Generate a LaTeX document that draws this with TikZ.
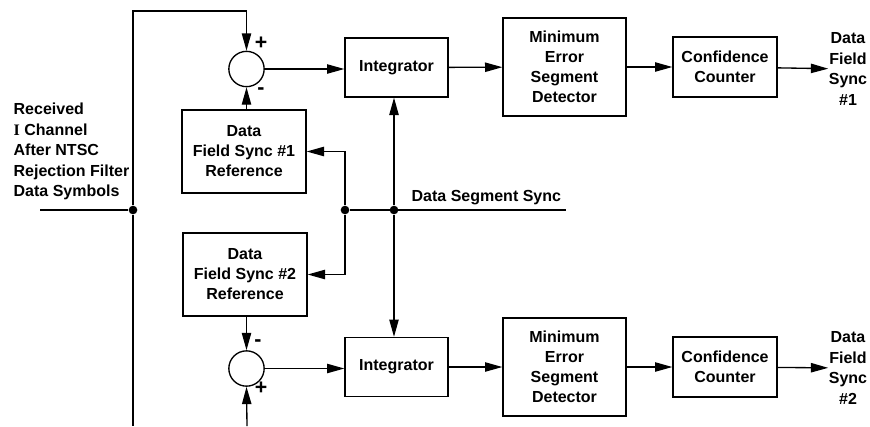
\documentclass[tikz,border=0pt]{standalone}
\usepackage{fontspec}
\setmainfont{Liberation Sans}
\newfontfamily\serifI{Liberation Serif}
\usepackage{tikz}
\usetikzlibrary{shapes,arrows.meta}
\tikzstyle{line} = [draw, -{Triangle[length=13pt,width=7pt]}]
\tikzstyle{wire} = [draw]
\tikzstyle{block} = [draw, align=center, inner sep=0pt, font=\bfseries\fontsize{12}{15}\selectfont]
\tikzstyle{summer} = [draw, circle, minimum size=26.5pt, inner sep=0pt]
\tikzstyle{dot} = [fill, circle, minimum size=6.5pt, inner sep=0pt]
\tikzstyle{lbl} = [align=center, inner sep=0pt, font=\bfseries\fontsize{12}{15.3}\selectfont]
\tikzstyle{sign} = [inner sep=0pt, font=\bfseries\fontsize{16}{16}\selectfont]

\begin{document}
\begin{tikzpicture}[x=0.75pt, y=0.75pt, line width=1pt]
            \useasboundingbox (0,0) rectangle (870,-426);
                % upper branch
                \node [summer] (sum1) at (246.5,-69) {};
                \node [block, minimum width=77.25pt, minimum height=44.25pt] (int1) at (396.5,-67.5) {Integrator};
                \node [block, minimum width=92.25pt, minimum height=73.5pt] (mes1) at (564.5,-67) {Minimum\\Error\\Segment\\Detector};
                \node [block, minimum width=78pt, minimum height=45pt] (cc1) at (725,-67) {Confidence\\Counter};
                \node [block, minimum width=93pt, minimum height=62.25pt] (ref1) at (244,-151.5) {Data\\Field Sync \#1\\Reference};
                \node [lbl] (out1) at (848,-69) {Data\\Field\\Sync\\\#1};
                \node [sign] (p1) at (261,-43) {+};
                \node [sign] (m1) at (261,-91) {-};
                % lower branch
                \node [summer] (sum2) at (246.5,-368.5) {};
                \node [block, minimum width=77.25pt, minimum height=44.25pt] (int2) at (396.5,-367) {Integrator};
                \node [block, minimum width=92.25pt, minimum height=73.5pt] (mes2) at (564.5,-367) {Minimum\\Error\\Segment\\Detector};
                \node [block, minimum width=78pt, minimum height=45pt] (cc2) at (725,-367) {Confidence\\Counter};
                \node [block, minimum width=93pt, minimum height=62.25pt] (ref2) at (245,-274.5) {Data\\Field Sync \#2\\Reference};
                \node [lbl] (out2) at (848,-368) {Data\\Field\\Sync\\\#2};
                \node [sign] (m2) at (258,-343) {-};
                \node [sign] (p2) at (261,-388) {+};
                % input and sync lines
                \node [lbl, align=left, anchor=west] (rx) at (13,-151.5) {Received\\{\serifI\bfseries I} Channel\\After NTSC\\Rejection Filter\\Data Symbols};
                \node [lbl, anchor=west] (dss) at (411,-197.5) {Data Segment Sync};
                \node [dot] (j1) at (133,-210) {};
                \node [dot] (j2) at (345,-210) {};
                \node [dot] (j3) at (394,-210) {};
                \coordinate (rxin) at (40,-210);
                \coordinate (ctop) at (133,-11);
                \coordinate (cbot) at (133,-426);
                \coordinate (sbot) at (247,-426);
                \coordinate (dssend) at (566,-210);
                \path [wire] (rxin) -- (j1);
                \path [wire] (j1) -- (cbot);
                \path [line] (j1) -- (ctop) -| (sum1.north);
                \path [line] (sbot) -- (sum2.south);
                \path [wire] (j2) -- (dssend);
                \path [line] (j2) |- (ref1.east);
                \path [line] (j2) |- (ref2.east);
                \path [line] (j3) -- (j3 |- int1.south);
                \path [line] (j3) -- (j3 |- int2.north);
                \path [line] (ref1.north -| sum1) -- (sum1.south);
                \path [line] (ref2.south -| sum2) -- (sum2.north);
                \path [line] (sum1.east) -- (sum1.east -| int1.west);
                \path [line] (sum2.east) -- (sum2.east -| int2.west);
                \path [line] (int1) -- (mes1);
                \path [line] (mes1) -- (cc1);
                \path [line] (cc1) -- (out1);
                \path [line] (int2) -- (mes2);
                \path [line] (mes2) -- (cc2);
                \path [line] (cc2) -- (out2);
            \end{tikzpicture}
\end{document}
